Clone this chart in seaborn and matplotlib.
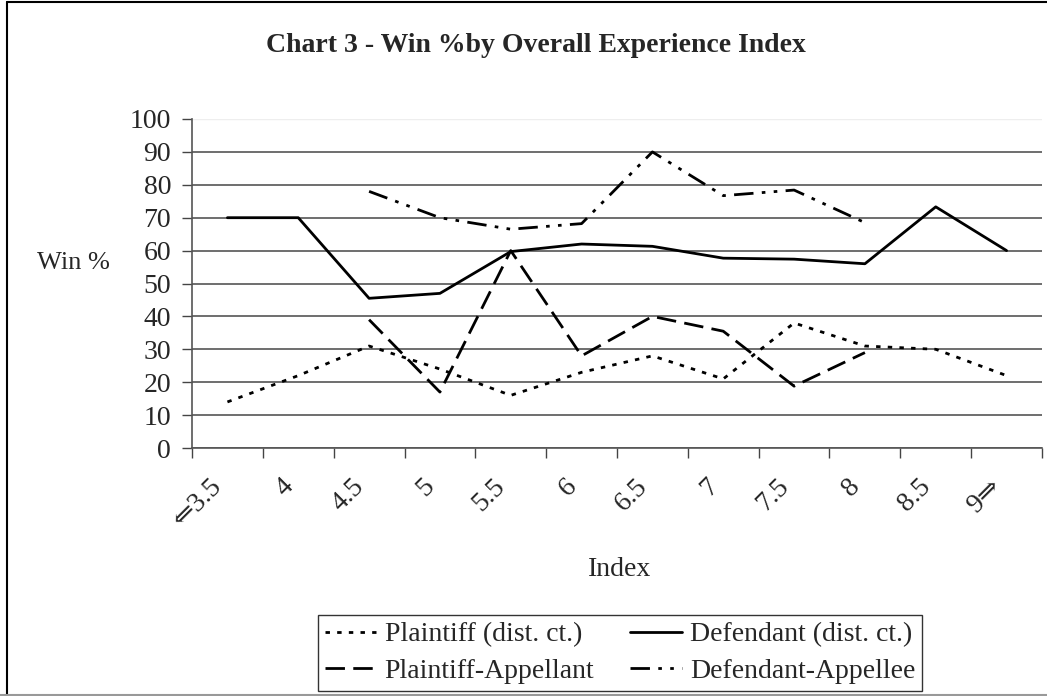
import numpy as np
import pandas as pd
import matplotlib
matplotlib.use("Agg")
import matplotlib.pyplot as plt
from matplotlib.lines import Line2D
from matplotlib.transforms import ScaledTranslation
import seaborn as sns

# Category labels along the index axis
index_labels = ["\u21d03.5", "4", "4.5", "5", "5.5", "6", "6.5", "7", "7.5", "8", "8.5", "9\u21d2"]

# Win percentages per series (NaN where no value)
plaintiff_dist = [14, 22, 31, 24, 16, 23, 28, 21, 38, 31, 30, 22]
defendant_dist = [70, 70, 45.5, 47, 59.7, 62, 61.3, 57.7, 57.4, 56, 73.3, 60]
plaintiff_app = [np.nan, np.nan, 39, 17, 60, 28, 40, 35.5, 18.8, 29, np.nan, np.nan]
defendant_app = [np.nan, np.nan, 78, 70, 66.5, 68.2, 90, 76.7, 78.4, 68.5, np.nan, np.nan]

series_names = ["Plaintiff (dist. ct.)", "Plaintiff-Appellant",
                "Defendant (dist. ct.)", "Defendant-Appellee"]
series_values = [plaintiff_dist, plaintiff_app, defendant_dist, defendant_app]
series_dashes = [(1.6, 2.6), (7, 3), None, (7, 3, 1.3, 3, 1.3, 3)]

sns.set_theme(style="white")
plt.rcParams["font.family"] = ["Liberation Serif", "DejaVu Serif"]

W, H = 1047, 696
fig = plt.figure(figsize=(W / 100, H / 100), dpi=100)
ax = fig.add_axes([192 / W, 1 - 448 / H, (1042 - 192) / W, (448 - 119) / H])

pos = np.arange(len(index_labels))
for name, vals, dash in zip(series_names, series_values, series_dashes):
    df = pd.DataFrame({"Index": pos, "Win": vals}).dropna()
    sns.lineplot(data=df, x="Index", y="Win", ax=ax, color="black",
                 linewidth=2.0, label=name)
    if dash is not None:
        ax.lines[-1].set_dashes(dash)

ax.set_xlim(-0.5, len(index_labels) - 0.5)
ax.set_ylim(0, 100)
ax.set_yticks(np.arange(0, 101, 10))
ax.tick_params(axis="y", labelsize=20, length=7, width=1, color="#444444",
               left=True, pad=8)
ax.yaxis.grid(True, color="#555555", linewidth=1.2)
ax.xaxis.grid(False)

# Category labels at centres, tick marks at category boundaries
ax.set_xticks(pos)
ax.set_xticklabels(index_labels, rotation=45, fontsize=20,
                   ha="right", va="center", rotation_mode="anchor")
ax.tick_params(axis="x", which="major", length=0, pad=25)
shift = ScaledTranslation(-9 / 100, 0, fig.dpi_scale_trans)
for lab in ax.get_xticklabels():
    lab.set_transform(lab.get_transform() + shift)
ax.set_xticks(np.arange(-0.5, len(index_labels), 1), minor=True)
ax.tick_params(axis="x", which="minor", length=7, width=1, color="#444444",
               bottom=True)

for side in ["top", "right"]:
    ax.spines[side].set_visible(False)
for side in ["left", "bottom"]:
    ax.spines[side].set_color("#555555")
    ax.spines[side].set_linewidth(1.2)
ax.axhline(100, color="#eeeeee", linewidth=1.0)

ax.set_xlabel("")
ax.set_ylabel("")
fig.text(73 / W, 1 - 263 / H, "Win %", fontsize=19, ha="center", va="center")
fig.text(620 / W, 1 - 569 / H, "Index", fontsize=20, ha="center", va="center")
fig.text(536 / W, 1 - 52 / H, "Chart 3 - Win %by Overall Experience Index",
         fontsize=20, fontweight="bold", ha="center", va="baseline")

handles, labels = ax.get_legend_handles_labels()
ax.legend(handles, labels, ncol=2, fontsize=20, frameon=True,
          loc="lower left", bbox_to_anchor=(318 / W, 1 - 691 / H),
          bbox_transform=fig.transFigure,
          handlelength=1.85, handletextpad=0.3, columnspacing=1.3,
          borderpad=0.25, labelspacing=0.4, fancybox=False,
          edgecolor="black", borderaxespad=0)
ax.get_legend().get_frame().set_linewidth(1.0)

# Outer chart frame
fig.add_artist(Line2D([7 / W, 7 / W], [1 - 694 / H, 1 - 2 / H],
                      transform=fig.transFigure, color="black", linewidth=1.5))
fig.add_artist(Line2D([7 / W, 1], [1 - 2 / H, 1 - 2 / H],
                      transform=fig.transFigure, color="black", linewidth=1.5))
fig.add_artist(Line2D([0, 1], [1 - 695 / H, 1 - 695 / H],
                      transform=fig.transFigure, color="#999999", linewidth=1.5))

fig.savefig("out.png", dpi=100)
